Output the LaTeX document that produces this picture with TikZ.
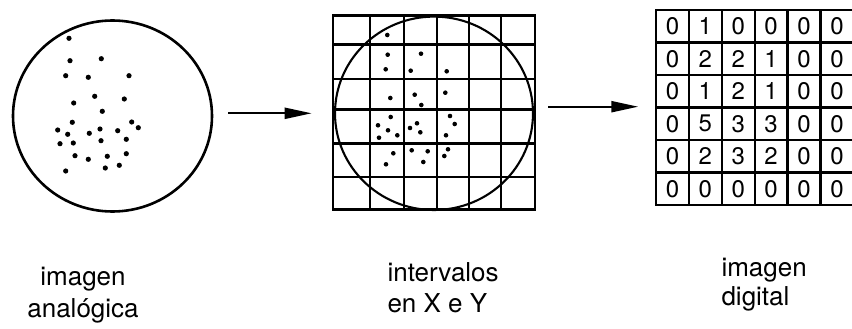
\documentclass[tikz,border=0pt]{standalone}
\usepackage{fontspec}
\setmainfont{TeX Gyre Heros}
\usetikzlibrary{arrows.meta,shapes.geometric}
\begin{document}
\begin{tikzpicture}[x=1pt,y=-1pt,
  outline/.style={draw,line width=2.6pt,inner sep=0pt,outer sep=0pt},
  gridline/.style={line width=2.4pt},
  arr/.style={line width=2.2pt,-{Triangle[length=27pt,width=11pt]}},
  lbl/.style={font=\fontsize{26}{30}\selectfont},
  num/.style={font=\fontsize{24}{24}\selectfont,inner sep=0pt}]
\useasboundingbox (0,0) rectangle (852,329);
% analog image
\node[outline,ellipse,minimum width=199pt,minimum height=191pt] (c1) at (112.5,116) {};
\foreach \p in {(69,38.3),(70,60.7),(101.3,58.7),(65.7,75.7),(88.3,77.3),(129,75.7),
  (94.7,96.3),(124.3,99),(73.7,103),(102.3,111.3),(72.3,122.3),(131.7,122),
  (138.3,127.7),(57.7,130),(67.7,134.3),(89.3,133.3),(100,129),(117.7,130.7),
  (60,143.7),(73.3,143),(101,140.7),(126.3,139.3),(75,155.7),(88.3,159.3),
  (107.3,156.3),(126.3,153.7),(65.7,171),(105.3,168),(119.3,165.3)}
  \fill \p circle (2.6pt);
% sampled grid
\node[outline,rectangle,minimum width=202pt,minimum height=194.4pt] (g2) at (434,112.5) {};
\foreach \x in {370,404,437,469,501} \draw[gridline] (\x,15.3) -- (\x,209.7);
\foreach \y in {44.7,79.2,109.5,143.5,177} \draw[gridline] (333,\y) -- (535,\y);
\node[draw,ellipse,line width=2.1pt,inner sep=0pt,minimum width=198pt,minimum height=193.4pt] (c2) at (434,113.3) {};
\foreach \p in {(387.3,35),(387.7,54.7),(421,53.7),(385.7,69.3),(410.7,70.7),(446.7,71.3),
  (414.7,94.7),(445.3,92.7),(390.3,98),(421.3,105),(390.7,117),(450,116),
  (454.7,124),(378,125.3),(388,130.3),(410,128),(417,123.3),(379,137.7),
  (397.3,135.3),(420.3,132.3),(446,135.3),(393.3,153.3),(411.7,150.3),
  (427.7,151.3),(448,149.3),(444.3,156),(386,164.3),(423.3,162)}
  \fill \p circle (2.3pt);
% digital image
\node[outline,rectangle,minimum width=197.4pt,minimum height=195pt] (g3) at (754.7,107.5) {};
\foreach \k in {1,...,5} {
  \draw[gridline] ({656+32.9*\k},10) -- ({656+32.9*\k},205);
  \draw[gridline] (656,{10+32.5*\k}) -- (853.4,{10+32.5*\k});
}
\foreach \row [count=\r from 0] in {{0,1,0,0,0,0},{0,2,2,1,0,0},{0,1,2,1,0,0},{0,5,3,3,0,0},{0,2,3,2,0,0},{0,0,0,0,0,0}}
  \foreach \v [count=\c from 0] in \row
    \node[num] (d\r\c) at ({656+32.9*(\c+0.5)},{10+32.5*(\r+0.5)}) {\v};
% arrows
\coordinate (a1s) at (228,113.3);
\coordinate (a1e) at (311.7,113.3);
\coordinate (a2s) at (548.3,106.7);
\coordinate (a2e) at (638.3,106.7);
\draw[arr] (a1s) -- (a1e);
\draw[arr] (a2s) -- (a2e);
% labels
\node[lbl,anchor=base] (l1a) at (83,285) {imagen};
\node[lbl,anchor=base] (l1b) at (83,317) {analógica};
\node[lbl,anchor=base west] (l2a) at (384,281) {intervalos};
\node[lbl,anchor=base west] (l2b) at (384,312) {en X e Y};
\node[lbl,anchor=base west] (l3a) at (718,276) {imagen};
\node[lbl,anchor=base west] (l3b) at (718,305) {digital};
\end{tikzpicture}
\end{document}
